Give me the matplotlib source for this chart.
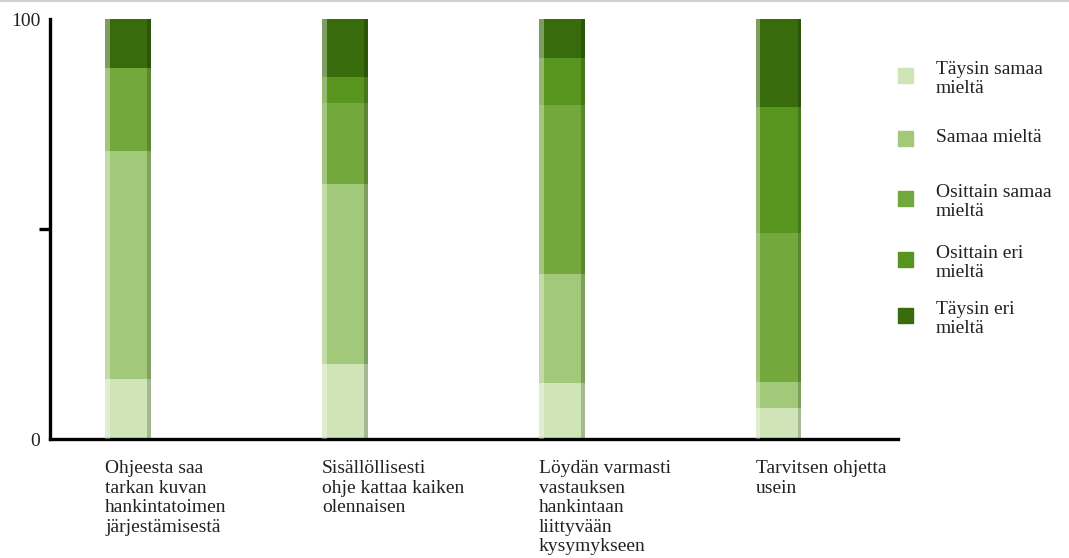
import numpy as np
import matplotlib.pyplot as plt
from matplotlib.patches import Rectangle
from matplotlib.lines import Line2D

plt.rcParams['font.family'] = ['Liberation Serif', 'DejaVu Serif']

categories = ["Ohjeesta saa\ntarkan kuvan\nhankintatoimen\njärjestämisestä",
              "Sisällöllisesti\nohje kattaa kaiken\nolennaisen",
              "Löydän varmasti\nvastauksen\nhankintaan\nliittyvään\nkysymykseen",
              "Tarvitsen ohjetta\nusein"]

series_names = ["Täysin samaa\nmieltä", "Samaa mieltä", "Osittain samaa\nmieltä",
                "Osittain eri\nmieltä", "Täysin eri\nmieltä"]

taysin_samaa = [14.3, 17.9, 13.3, 7.5]
samaa = [54.3, 42.9, 26.0, 6.0]
osittain_samaa = [19.7, 19.3, 40.2, 35.5]
osittain_eri = [0.0, 6.2, 11.1, 30.0]
taysin_eri = [11.7, 13.7, 9.4, 21.0]

colors = ['#cfe5b8', '#a2c979', '#73a93c', '#58951f', '#386b0c']

series = [taysin_samaa, samaa, osittain_samaa, osittain_eri, taysin_eri]

fig = plt.figure(figsize=(10.69, 5.58), dpi=100)
ax = fig.add_axes([50/1069, 1 - 439/558, (898 - 50)/1069, 420/558])

x = np.arange(len(categories))
width = 0.21
bottom = np.zeros(len(categories))
for vals, col in zip(series, colors):
    vals = np.array(vals)
    ax.bar(x, vals, width, bottom=bottom, color=col, linewidth=0, zorder=2)
    # soft highlight on the left edge and shadow on the right edge
    ax.bar(x - width*0.45, vals, width*0.10, bottom=bottom, color='white',
           alpha=0.35, linewidth=0, zorder=3)
    ax.bar(x + width*0.46, vals, width*0.08, bottom=bottom, color='black',
           alpha=0.2, linewidth=0, zorder=3)
    bottom += vals

ax.set_xlim(-0.36, 3.55)
ax.set_ylim(0, 100)

for s in ['top', 'right']:
    ax.spines[s].set_visible(False)
for s in ['left', 'bottom']:
    ax.spines[s].set_linewidth(2.4)
ax.set_yticks([0, 50, 100])
ax.set_yticklabels(['0', '', '100'], fontsize=14, color='#222222')
ax.tick_params(axis='y', length=8, width=2.4, pad=-1)
ticks = ax.yaxis.get_major_ticks()
ticks[0].tick1line.set_visible(False)
ticks[2].tick1line.set_visible(False)
ax.set_xticks([])

# category labels, left aligned under each bar
for xi, lab in zip(x, categories):
    ax.text(xi - width/2, -5, lab, ha='left', va='top', fontsize=14,
            linespacing=1.2, color='#222222', clip_on=False)

# legend drawn by hand
leg_y = [76, 139, 199, 260, 316]
for name, col, yy in zip(series_names, colors, leg_y):
    fig.add_artist(Rectangle((898/1069, 1 - (yy + 7)/558), 15/1069, 15/558,
                             transform=fig.transFigure, color=col))
    ty = yy + (3 if '\n' in name else -1)
    fig.text(936/1069, 1 - ty/558, name, ha='left', va='center',
             fontsize=14, linespacing=1.15, color='#222222')

fig.add_artist(Line2D([0, 1], [0.998, 0.998], color='#d0d0d0', lw=1.5,
                      transform=fig.transFigure))

fig.savefig('out.png', dpi=100)
